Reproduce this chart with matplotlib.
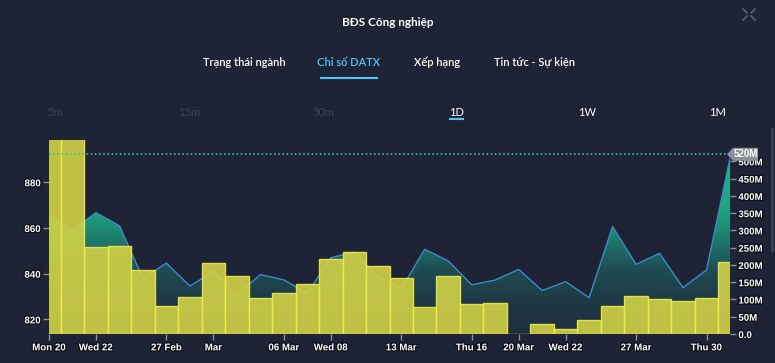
import numpy as np
import matplotlib
matplotlib.use("Agg")
import matplotlib.pyplot as plt
from matplotlib.colors import LinearSegmentedColormap
from matplotlib.patches import Polygon, Rectangle
from matplotlib.lines import Line2D
import matplotlib.patheffects as pe

# ---------------- data ----------------
dates = ["2023-02-20", "2023-02-21", "2023-02-22", "2023-02-23", "2023-02-24",
         "2023-02-27", "2023-02-28", "2023-03-01", "2023-03-02", "2023-03-03",
         "2023-03-06", "2023-03-07", "2023-03-08", "2023-03-09", "2023-03-10",
         "2023-03-13", "2023-03-14", "2023-03-15", "2023-03-16", "2023-03-17",
         "2023-03-20", "2023-03-21", "2023-03-22", "2023-03-23", "2023-03-24",
         "2023-03-27", "2023-03-28", "2023-03-29", "2023-03-30", "2023-03-31"]
price = [865.7, 859.1, 866.7, 861.0, 838.0, 844.6, 834.6, 840.9, 830.7, 839.6,
         837.3, 831.4, 847.0, 849.4, 838.7, 833.3, 850.7, 845.6, 835.1, 837.2,
         841.9, 832.6, 836.5, 829.5, 860.6, 844.1, 848.9, 833.9, 841.6, 890.5]
volume_m = [590, 590, 251, 255, 185, 80, 108, 205, 168, 103,
            118, 145, 218, 237, 197, 161, 79, 169, 86, 91,
            0, 29, 14, 41, 80, 110, 100, 96, 103, 210]
xtick_idx = [0, 2, 5, 7, 10, 12, 15, 18, 20, 22, 25, 28]
xtick_labels = ["Mon 20", "Wed 22", "27 Feb", "Mar", "06 Mar", "Wed 08",
                "13 Mar", "Thu 16", "20 Mar", "Wed 22", "27 Mar", "Thu 30"]
price_ticks = [820, 840, 860, 880]
vol_ticks = [0, 50, 100, 150, 200, 250, 300, 350, 400, 450, 500]
vol_tick_labels = ["0.0", "50M", "100M", "150M", "200M", "250M", "300M",
                   "350M", "400M", "450M", "500M"]
ref_level_m = 520
ref_label = "520M"
title = "BĐS Công nghiệp"
tabs = ["Trạng thái ngành", "Chỉ số DATX", "Xếp hạng", "Tin tức - Sự kiện"]
timeframes = ["5m", "15m", "30m", "1D", "1W", "1M"]

# ---------------- styling ----------------
W, H = 775, 363
BG = "#1f2336"
fig = plt.figure(figsize=(W / 100, H / 100), dpi=100, facecolor=BG)

def fx(x):
    return x / W

def fy(y):
    return (H - y) / H

narrow = ["Liberation Sans Narrow", "Liberation Sans", "DejaVu Sans"]
ui = ["Lato", "DejaVu Sans"]
stroke = [pe.withStroke(linewidth=1.8, foreground="#0c0e18")]

# axes
L, R, T, B = 49, 730, 140, 334
ax = fig.add_axes([fx(L), fy(B), fx(R) - fx(L), fy(T) - fy(B)])
ax.set_facecolor("none")
x = np.arange(len(dates))
ax.set_xlim(0, len(dates) - 1)
pmin, pmax = 813.6, 898.5
ax.set_ylim(pmin, pmax)

# gradient area under price line
cmap = LinearSegmentedColormap.from_list(
    "g", [(0.0, "#1e2d3e"), (0.18, "#1e3a46"), (0.33, "#1f4c53"),
          (0.45, "#1e6e68"), (0.56, "#1f9176"), (0.66, "#20a47e"),
          (1.0, "#23be8e")])
grad = np.linspace(0, 1, 256).reshape(-1, 1)
im = ax.imshow(grad, cmap=cmap, origin="lower", aspect="auto",
               extent=[0, len(dates) - 1, pmin, pmax], zorder=1)
poly = ax.fill_between(x, price, pmin, color="none", zorder=1)
clip = Polygon(np.vstack([np.column_stack([x, price]),
                          [[x[-1], pmin], [x[0], pmin]]]),
               closed=True, transform=ax.transData, facecolor="none",
               edgecolor="none")
ax.add_patch(clip)
im.set_clip_path(clip)
ax.plot(x, price, color="#3a8dc4", lw=1.0, zorder=2)

ax.set_yticks(price_ticks)
ax.set_yticklabels([str(v) for v in price_ticks])
ax.set_xticks(xtick_idx)
ax.set_xticklabels(xtick_labels)
for s in ax.spines.values():
    s.set_visible(False)
ax.tick_params(axis="both", colors="#8a8f9c", length=4, width=1,
               labelcolor="white", labelsize=7, pad=2)
for lab in ax.get_xticklabels() + ax.get_yticklabels():
    lab.set_family(narrow)
    lab.set_weight("bold")
    lab.set_path_effects(stroke)

# volume bars on twin axis (drawn above the area)
ax2 = ax.twinx()
ax2.set_ylim(0, 562)
ax2.bar(x, volume_m, width=1.0, color="#d2d246", alpha=0.9,
        edgecolor="#ecec4c", linewidth=1.0, zorder=3)
ax2.axhline(ref_level_m, color="#2cc79d", lw=1.2, ls=(0, (1, 1.5)), zorder=4)
ax2.set_yticks(vol_ticks)
ax2.set_yticklabels(vol_tick_labels)
for s in ax2.spines.values():
    s.set_visible(False)
ax2.tick_params(axis="y", colors="#8a8f9c", length=4, width=1,
                labelcolor="white", labelsize=7, pad=2)
for lab in ax2.get_yticklabels():
    lab.set_family(narrow)
    lab.set_weight("bold")
    lab.set_path_effects(stroke)

# reference value tag
tag_y = 154.3
tag = Polygon([[fx(727), fy(tag_y)], [fx(733), fy(tag_y - 6.5)],
               [fx(758), fy(tag_y - 6.5)], [fx(758), fy(tag_y + 6.5)],
               [fx(733), fy(tag_y + 6.5)]], closed=True,
              transform=fig.transFigure, facecolor="#8d909a",
              edgecolor="none", zorder=10)
fig.patches.append(tag)
fig.text(fx(745.5), fy(tag_y), ref_label, color="white", fontsize=7,
         family=narrow, weight="bold", ha="center", va="center", zorder=11)

# header
fig.text(fx(388), fy(22), title, color="white", fontsize=8.5,
         family=ui, weight="bold", ha="center", va="center")
tab_x = [244, 349, 437, 535]
for t, xx in zip(tabs, tab_x):
    c = "#4fc6f2" if t == "Chỉ số DATX" else "white"
    fig.text(fx(xx), fy(62), t, color=c, fontsize=8, family=ui,
             weight="semibold", ha="center", va="center")
fig.lines.append(Line2D([fx(321), fx(377)], [fy(77.5), fy(77.5)],
                        transform=fig.transFigure, color="#4fc6f2", lw=1.5))
tf_x = [55, 189, 324, 456.5, 587, 717.5]
for t, xx in zip(timeframes, tf_x):
    c = "#3e4459" if t in ("5m", "15m", "30m") else "white"
    fig.text(fx(xx), fy(112), t, color=c, fontsize=8, family=ui,
             ha="center", va="center")
fig.lines.append(Line2D([fx(450), fx(463)], [fy(119), fy(119)],
                        transform=fig.transFigure, color="#4fc6f2", lw=1.5))

# collapse icon
for (x0, y0, x1, y1) in [(743, 9, 747, 13), (755, 9, 751, 13),
                         (743, 20, 747, 16), (755, 20, 751, 16)]:
    fig.lines.append(Line2D([fx(x0), fx(x1)], [fy(y0), fy(y1)],
                            transform=fig.transFigure, color="#5a6078", lw=1.2))

# scrollbar
fig.patches.append(Rectangle((fx(771), fy(252)), fx(3), fy(128) - fy(252),
                             transform=fig.transFigure, facecolor="#3a3f52",
                             edgecolor="none"))

fig.savefig("out.png", dpi=100, facecolor=BG)
